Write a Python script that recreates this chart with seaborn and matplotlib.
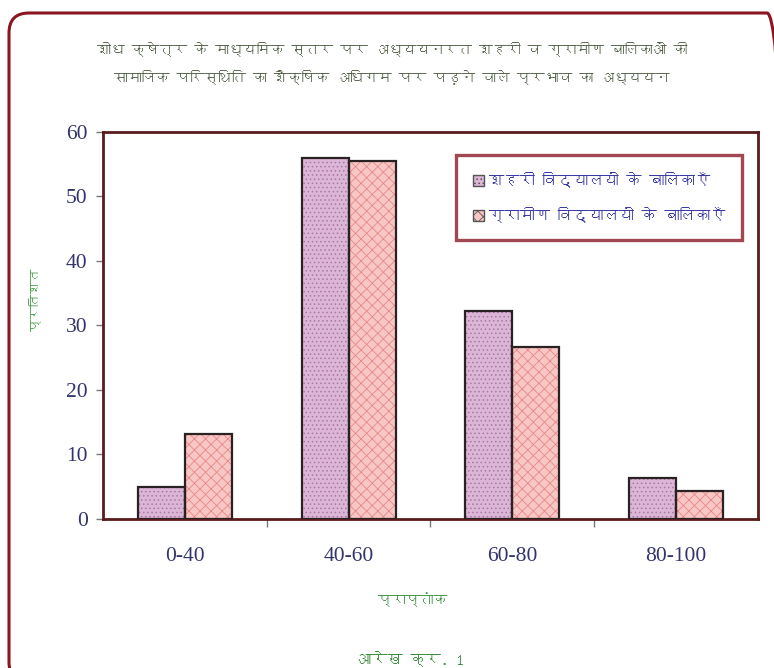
import numpy as np
import pandas as pd
import matplotlib
matplotlib.use("Agg")
import matplotlib.pyplot as plt
import seaborn as sns
from matplotlib import font_manager as fm
from matplotlib.ft2font import FT2Font
from matplotlib.patches import Patch, Rectangle, FancyBboxPatch
from matplotlib.transforms import IdentityTransform

# ---- data ----
categories = ["0-40", "40-60", "60-80", "80-100"]
urban = [5.0, 55.9, 32.3, 6.3]
rural = [13.1, 55.5, 26.7, 4.3]
series_names = ["शहरी विद्यालयों के बालिकाएँ", "ग्रामीण विद्यालयों के बालिकाएँ"]
y_ticks = [0, 10, 20, 30, 40, 50, 60]
title_text = "शोध क्षेत्र के माध्यमिक स्तर पर अध्ययनरत शहरी व ग्रामीण बालिकाओं की\nसामाजिक परिस्थिति का शैक्षिक अधिगम पर पड़ने वाले प्रभाव का अध्ययन"
ylabel_text = "प्रतिशत"
xlabel_text = "प्राप्तांक"
caption_text = "आरेख क्र. 1"

# ---- find a Devanagari-capable font, if any ----
deva = None
for f in fm.fontManager.ttflist:
    try:
        if 0x0936 in FT2Font(f.fname).get_charmap():
            deva = f.name
            break
    except Exception:
        pass
hindi_family = [deva, "DejaVu Sans"] if deva else ["Noto Sans", "DejaVu Sans"]

sns.set_theme(style="white")
plt.rcParams["font.family"] = hindi_family
plt.rcParams["hatch.linewidth"] = 0.6

df = pd.DataFrame({
    "cat": categories * 2,
    "val": urban + rural,
    "series": [series_names[0]] * len(categories) + [series_names[1]] * len(categories),
})

fig = plt.figure(figsize=(7.74, 6.68), dpi=100)
ax = fig.add_axes([0.1331, 0.2231, 0.9793 - 0.1331, 0.8028 - 0.2231])

face_cols = ["#dcb6d6", "#f8c6c4"]
hatch_cols = ["#a879a2", "#e48a88"]
hatches = ["....", "xxx"]

sns.barplot(data=df, x="cat", y="val", hue="series", order=categories,
            hue_order=series_names, palette=face_cols, width=0.575,
            saturation=1, linewidth=0, ax=ax, legend=False, errorbar=None)

# style bars: hatch color from edgecolor, then an outline on top
bars = list(ax.patches)
n = len(categories)
for i, p in enumerate(bars):
    s = i // n
    p.set_hatch(hatches[s])
    p.set_edgecolor(hatch_cols[s])
    p.set_linewidth(0)
    ax.add_patch(Rectangle(p.get_xy(), p.get_width(), p.get_height(),
                           fill=False, edgecolor="#2a2222", linewidth=1.6, zorder=3))

ax.set_ylim(0, 60)
ax.set_xlim(-0.5, len(categories) - 0.5)
ax.set_yticks(y_ticks)
ax.set_yticklabels([str(t) for t in y_ticks], family="Liberation Serif",
                   fontsize=15.5, color="#34346c")
ax.set_xticks(range(len(categories)))
ax.set_xticklabels(categories, family="Liberation Serif", fontsize=15.5, color="#34346c")
ax.tick_params(axis="x", length=0, pad=20)
ax.tick_params(axis="y", length=5, width=1, color="#777777", left=True, pad=6)
# category boundary ticks on the x axis
ax.set_xticks([0.5, 1.5, 2.5], minor=True)
ax.tick_params(axis="x", which="minor", length=6, width=1, color="#777777", bottom=True)
ax.set_xlabel("")
ax.set_ylabel("")
for sp in ax.spines.values():
    sp.set_visible(True)
    sp.set_color("#5a1c1c")
    sp.set_linewidth(2.0)

# legend
handles = [Patch(facecolor=face_cols[i], edgecolor="#555555", hatch=hatches[i], linewidth=1.0)
           for i in range(2)]
leg = fig.legend(handles, series_names, loc="upper right",
                 bbox_to_anchor=(742 / 774, 1 - 155 / 668),
                 fontsize=11, frameon=True, fancybox=False,
                 handlelength=0.75, handleheight=0.75, handletextpad=0.3,
                 labelspacing=1.25, borderpad=1.1, borderaxespad=0)
leg.get_frame().set_edgecolor("#8b1a28")
leg.get_frame().set_linewidth(2.4)
leg.get_frame().set_facecolor("white")
for t in leg.get_texts():
    t.set_color("#3a3aa6")
    t.set_family(hindi_family)

# texts
fig.text(392 / 774, 1 - 63 / 668, title_text, ha="center", va="center",
         fontsize=10, color="#4f5e45", linespacing=2.0, family=hindi_family)
fig.text(35 / 774, 1 - 300 / 668, ylabel_text, ha="center", va="center",
         rotation=90, fontsize=9, color="#3c9a3c", family=hindi_family)
fig.text(413 / 774, 1 - 600 / 668, xlabel_text, ha="center", va="center",
         fontsize=10, color="#3c8f3c", family=hindi_family)
fig.text(410 / 774, 1 - 659 / 668, caption_text, ha="center", va="center",
         fontsize=11, color="#3c8f3c", family=hindi_family)

# outer rounded border (pixel coordinates)
border = FancyBboxPatch((9, -14), 778, 668 + 14 - 13,
                        boxstyle="round,pad=0,rounding_size=20",
                        transform=IdentityTransform(), fill=False,
                        edgecolor="#8b1620", linewidth=2.2)
fig.patches.append(border)

fig.savefig("out.png", dpi=100)
